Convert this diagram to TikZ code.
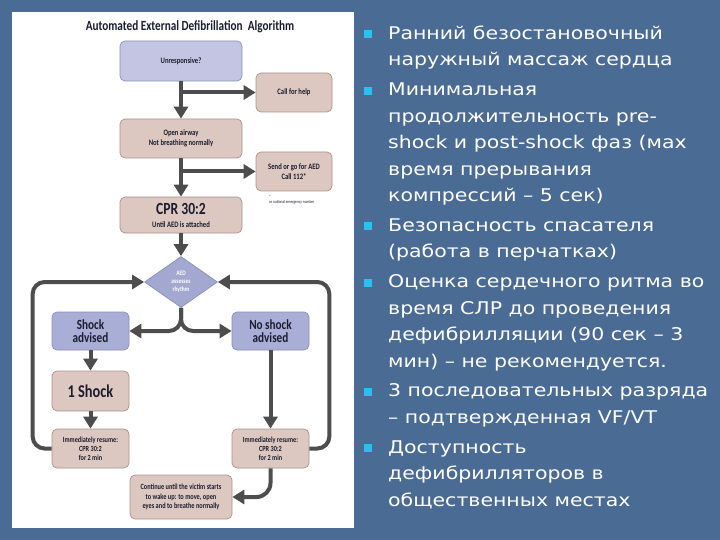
\documentclass[tikz,border=0pt]{standalone}
\usepackage{fontspec}
\usetikzlibrary{arrows.meta,shapes.geometric}
\newfontfamily\panelfont[FakeStretch=0.8]{Carlito}
\newfontfamily\titlefont[FakeStretch=0.8]{Carlito}
\newfontfamily\slidefont[FakeStretch=1.17]{DejaVu Sans}
\definecolor{bgblue}{HTML}{4A6B93}
\definecolor{beige}{HTML}{DCC8C0}
\definecolor{beigeb}{HTML}{A8948C}
\definecolor{lav}{HTML}{C3C5E3}
\definecolor{lavdark}{HTML}{A8AED6}
\definecolor{lavb}{HTML}{8A90BA}
\definecolor{diam}{HTML}{A2A8D0}
\definecolor{arrgray}{HTML}{4D4D4D}
\definecolor{ptext}{HTML}{1C1C30}
\definecolor{bcyan}{HTML}{2CC0F0}
\newcommand{\bsq}{\textcolor{bcyan}{\rule[0.9pt]{8pt}{8pt}}\hspace{16pt}}
\begin{document}
\begin{tikzpicture}[x=1pt,y=-1pt,
  pbox/.style={draw=beigeb, fill=beige, rounded corners=5pt, line width=0.7pt,
    inner sep=1pt, align=center, font=\panelfont\bfseries, text=ptext},
  lbox/.style={pbox, draw=lavb, fill=lav},
  lboxd/.style={pbox, draw=lavb, fill=lavdark},
  arr/.style={draw=arrgray, line width=4pt, -{Triangle[width=14pt,length=12pt]}},
  small/.style={font=\panelfont\bfseries\fontsize{8.3}{10}\selectfont},
  tiny/.style={font=\panelfont\bfseries\fontsize{7.8}{9.2}\selectfont},
  big/.style={font=\panelfont\bfseries\fontsize{14}{13.5}\selectfont}
]
\useasboundingbox (0,0) rectangle (720,540);
\fill[bgblue] (0,0) rectangle (720,540);
\fill[white] (12,12) rectangle (354,528);

\node[font=\titlefont\bfseries\fontsize{14}{15}\selectfont, text=ptext] (title) at (190,27)
  {Automated External Defibrillation\ \ Algorithm};

\node[lbox, small, minimum width=122pt, minimum height=40pt] (unresp) at (181,61) {Unresponsive?};
\node[pbox, small, minimum width=76pt, minimum height=39pt] (callhelp) at (294,92.5) {Call for help};
\node[pbox, small, minimum width=122pt, minimum height=39pt] (airway) at (181,138.5) {Open airway\\Not breathing normally};
\node[pbox, small, minimum width=76pt, minimum height=39pt] (sendaed) at (294,171.5) {Send or go for AED\\Call 112*};
\node[anchor=west, inner sep=0, text=ptext, font=\panelfont\fontsize{4.5}{5}\selectfont, align=left] (foot) at (269,200)
  {*\\or national emergency number};
\node[pbox, minimum width=122pt, minimum height=36pt] (cpr) at (181,215)
  {{\fontsize{17}{17}\selectfont CPR 30:2}\\[1pt]{\fontsize{8.3}{10}\selectfont Until AED is attached}};
\node[diamond, draw=lavb, fill=diam, line width=0.7pt, minimum width=73pt, minimum height=51pt, inner sep=0,
  align=center, text=white, font=\panelfont\bfseries\fontsize{6.8}{7.8}\selectfont] (diam) at (181,282)
  {AED\\assesses\\rhythm};
\node[lboxd, big, minimum width=77pt, minimum height=38pt] (shock) at (90.5,331) {Shock\\advised};
\node[lboxd, big, minimum width=77pt, minimum height=38pt] (noshock) at (270.5,331) {No shock\\advised};
\node[pbox, font=\panelfont\bfseries\fontsize{18}{18}\selectfont, minimum width=77pt, minimum height=40pt] (oneshock) at (90.5,391) {1 Shock};
\node[pbox, tiny, minimum width=77pt, minimum height=39pt] (resumeL) at (90.5,448.5) {Immediately resume:\\CPR 30:2\\for 2 min};
\node[pbox, tiny, minimum width=77pt, minimum height=39pt] (resumeR) at (270.5,448.5) {Immediately resume:\\CPR 30:2\\for 2 min};
\node[pbox, tiny, font=\panelfont\bfseries\fontsize{7.9}{9.7}\selectfont, minimum width=102pt, minimum height=44pt] (cont) at (181,497)
  {Continue until the victim starts\\to wake up: to move, open\\eyes and to breathe normally};

% connectors
\draw[arr] (unresp) -- (airway);
\draw[arr] (unresp.south |- callhelp.west) -- (callhelp.west);
\draw[arr] (airway) -- (cpr);
\draw[arr] (airway.south |- sendaed.west) -- (sendaed.west);
\draw[arr] (cpr) -- (diam);
\draw[arr, rounded corners=12pt] (diam.south) |- (shock.east);
\draw[arr, rounded corners=12pt] (diam.south) |- (noshock.west);
\draw[arr] (shock) -- (oneshock);
\draw[arr] (oneshock) -- (resumeL);
\draw[arr] (noshock) -- (resumeR);
\draw[arr, rounded corners=12pt] (resumeL.west) -- ++(-19,0) |- (diam.west);
\draw[arr, rounded corners=12pt] (resumeR.east) -- ++(20,0) |- (diam.east);
\draw[arr, rounded corners=14pt] (resumeR.south) |- (cont.east);

% bullet list
\node[anchor=north west, inner sep=0, align=left, text=white,
  font=\slidefont\fontsize{17.5}{26.5}\selectfont] (list) at (388,25.5) {%
\llap{\bsq}Ранний безостановочный\\
наружный массаж сердца\\[3.3pt]
\llap{\bsq}Минимальная\\
продолжительность pre-\\
shock и post-shock фаз (мах\\
время прерывания\\
компрессий – 5 сек)\\[3.3pt]
\llap{\bsq}Безопасность спасателя\\
(работа в перчатках)\\[3.3pt]
\llap{\bsq}Оценка сердечного ритма во\\
время СЛР до проведения\\
дефибрилляции (90 сек – 3\\
мин) – не рекомендуется.\\[3.3pt]
\llap{\bsq}3 последовательных разряда\\
– подтвержденная VF/VT\\[3.3pt]
\llap{\bsq}Доступность\\
дефибрилляторов в\\
общественных местах};
\end{tikzpicture}
\end{document}
